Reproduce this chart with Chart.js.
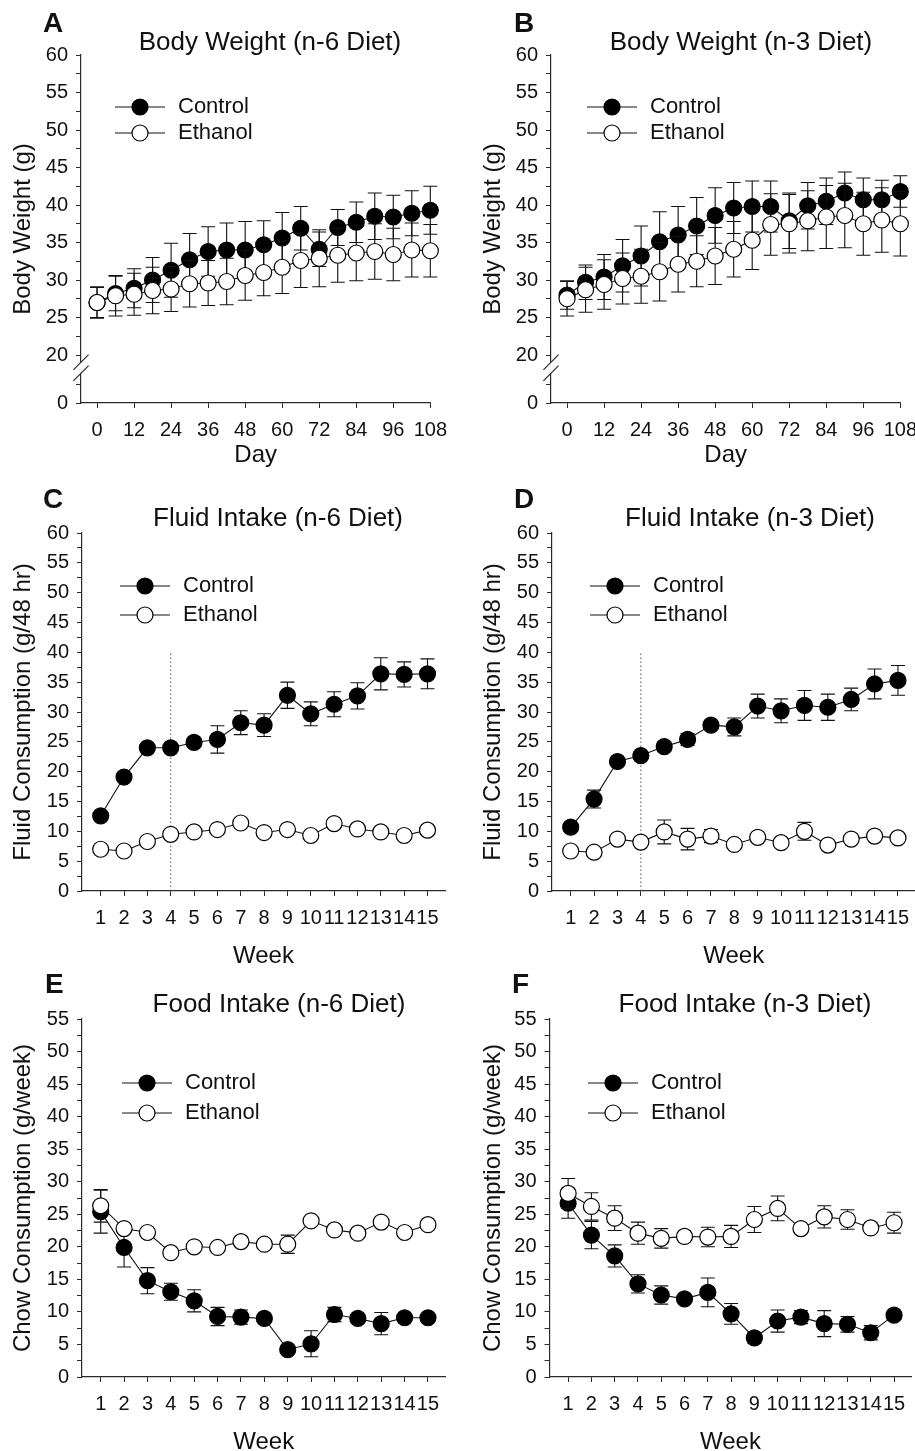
<!DOCTYPE html>
<html>
<head>
<meta charset="utf-8">
<script src="https://cdn.jsdelivr.net/npm/chart.js@4.4.1/dist/chart.umd.min.js"></script>
<style>
  html, body { margin: 0; padding: 0; background: #fff; overflow: hidden; }
  #page { position: relative; width: 915px; height: 1451px; overflow: hidden;
          font-family: "Liberation Sans", Arial, Helvetica, sans-serif; color: #111; }
  canvas { position: absolute; }
  .letter { position: absolute; font-weight: bold; font-size: 28px; line-height: 1; transform: translateY(-50%); }
  .title { position: absolute; font-size: 26px; line-height: 1; white-space: nowrap; transform: translate(-50%, -50%); }
</style>
</head>
<body>
<div id="page"></div>
<script>
const FONT = '"Liberation Sans", Arial, Helvetica, sans-serif';
const INK = '#111';
const AXIS = '#2b2b2b';

// x positions
const days = [0, 6, 12, 18, 24, 30, 36, 42, 48, 54, 60, 66, 72, 78, 84, 90, 96, 102, 108];
const weeks = [1, 2, 3, 4, 5, 6, 7, 8, 9, 10, 11, 12, 13, 14, 15];

// tick labels
const dayTicks = [0, 12, 24, 36, 48, 60, 72, 84, 96, 108];
const bwYTicks = [20, 25, 30, 35, 40, 45, 50, 55, 60];
const fluidYTicks = [0, 5, 10, 15, 20, 25, 30, 35, 40, 45, 50, 55, 60];
const foodYTicks = [0, 5, 10, 15, 20, 25, 30, 35, 40, 45, 50, 55];
const brokenZero = 13.6;   // where "0" sits below the axis break
const fluidMarkWeek = 4;   // dotted line in fluid panels
const fluidMarkTop = 40;

// A - body weight, n-6
const bwN6Control    = [27.0, 28.2, 28.9, 30.0, 31.3, 32.7, 33.8, 34.0, 34.0, 34.7, 35.6, 36.9, 34.1, 37.0, 37.7, 38.5, 38.4, 38.9, 39.3];
const bwN6ControlErr = [2.0, 2.3, 2.6, 3.0, 3.6, 3.5, 3.3, 3.6, 3.8, 3.2, 3.4, 2.9, 2.3, 2.4, 2.7, 3.1, 2.9, 3.0, 3.2];
const bwN6Ethanol    = [27.0, 27.9, 28.1, 28.6, 28.8, 29.5, 29.6, 29.8, 30.6, 31.0, 31.7, 32.6, 32.9, 33.3, 33.6, 33.8, 33.4, 34.0, 33.9];
const bwN6EthanolErr = [2.1, 2.7, 2.8, 3.1, 3.0, 3.1, 3.0, 3.1, 3.3, 3.1, 3.5, 3.6, 3.8, 3.6, 3.7, 3.7, 3.5, 3.6, 3.5];

// B - body weight, n-3
const bwN3Control    = [28.0, 29.7, 30.4, 31.9, 33.2, 35.1, 36.0, 37.2, 38.6, 39.6, 39.8, 39.8, 37.9, 39.9, 40.5, 41.6, 40.7, 40.7, 41.8];
const bwN3ControlErr = [1.9, 2.3, 3.0, 3.5, 4.0, 4.0, 3.8, 3.8, 3.7, 3.4, 3.4, 3.4, 3.7, 3.1, 3.1, 2.8, 2.9, 2.6, 2.1];
const bwN3Ethanol    = [27.5, 28.7, 29.4, 30.2, 30.5, 31.1, 32.1, 32.5, 33.2, 34.1, 35.3, 37.4, 37.5, 37.9, 38.4, 38.6, 37.5, 38.0, 37.5];
const bwN3EthanolErr = [2.3, 3.0, 3.3, 3.4, 3.6, 3.9, 3.7, 3.4, 3.8, 3.7, 3.9, 4.1, 3.9, 4.0, 4.2, 4.3, 4.2, 4.3, 4.3];

// C - fluid intake, n-6
const fluidN6Control    = [12.6, 19.1, 24.0, 24.0, 24.9, 25.4, 28.2, 27.8, 32.8, 29.7, 31.3, 32.7, 36.4, 36.3, 36.4];
const fluidN6ControlErr = [0.5, 0.6, 0.5, 0.5, 0.6, 2.3, 2.0, 1.9, 2.2, 2.0, 2.1, 2.2, 2.7, 2.1, 2.5];
const fluidN6Ethanol    = [7.0, 6.7, 8.3, 9.5, 9.9, 10.3, 11.4, 9.8, 10.3, 9.3, 11.3, 10.4, 9.9, 9.3, 10.2];
const fluidN6EthanolErr = [0.4, 0.4, 0.5, 0.5, 0.5, 0.6, 0.6, 0.5, 0.6, 0.5, 0.6, 0.6, 0.5, 0.5, 0.5];

// D - fluid intake, n-3
const fluidN3Control    = [10.7, 15.4, 21.7, 22.7, 24.2, 25.4, 27.8, 27.5, 31.0, 30.2, 31.1, 30.8, 32.1, 34.7, 35.3];
const fluidN3ControlErr = [0.5, 1.5, 0.6, 0.6, 0.8, 1.0, 0.7, 1.5, 2.0, 2.0, 2.5, 2.2, 1.9, 2.5, 2.5];
const fluidN3Ethanol    = [6.7, 6.5, 8.7, 8.2, 9.9, 8.7, 9.2, 7.8, 9.0, 8.1, 10.0, 7.7, 8.7, 9.2, 8.9];
const fluidN3EthanolErr = [0.4, 0.4, 0.5, 0.5, 2.0, 1.8, 1.1, 0.5, 0.6, 0.5, 1.5, 0.5, 0.5, 0.5, 0.5];

// E - food intake, n-6
const foodN6Control    = [25.4, 19.9, 14.8, 13.1, 11.7, 9.3, 9.2, 9.0, 4.2, 5.1, 9.6, 9.0, 8.2, 9.1, 9.1];
const foodN6ControlErr = [3.3, 3.0, 2.0, 1.3, 1.7, 1.4, 1.1, 0.5, 0.5, 2.0, 1.1, 0.6, 1.7, 0.5, 0.5];
const foodN6Ethanol    = [26.3, 22.8, 22.2, 19.1, 20.0, 19.9, 20.8, 20.4, 20.4, 24.0, 22.6, 22.1, 23.8, 22.2, 23.4];
const foodN6EthanolErr = [2.5, 0.5, 0.5, 0.5, 0.5, 0.5, 0.5, 0.5, 1.4, 0.6, 0.5, 0.5, 0.6, 0.5, 0.5];

// F - food intake, n-3
const foodN3Control    = [26.7, 21.8, 18.6, 14.3, 12.6, 12.0, 13.0, 9.7, 6.0, 8.6, 9.2, 8.2, 8.1, 6.8, 9.5];
const foodN3ControlErr = [2.3, 2.1, 1.7, 1.4, 1.4, 0.6, 2.2, 1.6, 0.8, 1.7, 1.0, 2.0, 1.2, 1.1, 0.5];
const foodN3Ethanol    = [28.2, 26.2, 24.4, 22.1, 21.3, 21.6, 21.5, 21.6, 24.2, 25.9, 22.8, 24.6, 24.2, 22.9, 23.7];
const foodN3EthanolErr = [2.3, 2.1, 1.9, 1.7, 1.5, 0.6, 1.5, 1.7, 2.0, 1.9, 0.5, 1.7, 1.5, 0.5, 1.6];

// layout: box = canvas [left, top, width, height], area = plot [left, right, top, bottom] in page px
const panels = [
  { letter: 'A', title: 'Body Weight (n-6 Diet)', box: [0, 0, 457, 470], area: [81, 431, 55, 403],
    letterPos: [43, 23], titlePos: [270, 41], legendPos: [140, 107, 133],
    xs: days, xMin: -5.2, xMax: 108, xTicks: dayTicks, xTitle: 'Day',
    yMin: brokenZero, yMax: 60, yTicks: bwYTicks, yTitle: 'Body Weight (g)', broken: true,
    control: bwN6Control, controlErr: bwN6ControlErr, ethanol: bwN6Ethanol, ethanolErr: bwN6EthanolErr },
  { letter: 'B', title: 'Body Weight (n-3 Diet)', box: [470, 0, 457, 470], area: [551, 902, 55, 403],
    letterPos: [514, 23], titlePos: [741, 41], legendPos: [612, 107, 133],
    xs: days, xMin: -5.2, xMax: 108, xTicks: dayTicks, xTitle: 'Day',
    yMin: brokenZero, yMax: 60, yTicks: bwYTicks, yTitle: 'Body Weight (g)', broken: true,
    control: bwN3Control, controlErr: bwN3ControlErr, ethanol: bwN3Ethanol, ethanolErr: bwN3EthanolErr },
  { letter: 'C', title: 'Fluid Intake (n-6 Diet)', box: [0, 480, 457, 491], area: [82, 445, 533, 891],
    letterPos: [43, 499], titlePos: [278, 517], legendPos: [145, 586, 615],
    xs: weeks, xMin: 0.2, xMax: 15.75, xTicks: weeks, xTitle: 'Week',
    yMin: 0, yMax: 60, yTicks: fluidYTicks, yTitle: 'Fluid Consumption (g/48 hr)', markWeek: fluidMarkWeek,
    control: fluidN6Control, controlErr: fluidN6ControlErr, ethanol: fluidN6Ethanol, ethanolErr: fluidN6EthanolErr },
  { letter: 'D', title: 'Fluid Intake (n-3 Diet)', box: [470, 480, 457, 491], area: [552, 915.5, 533, 891],
    letterPos: [514, 499], titlePos: [750, 517], legendPos: [615, 586, 615],
    xs: weeks, xMin: 0.2, xMax: 15.75, xTicks: weeks, xTitle: 'Week',
    yMin: 0, yMax: 60, yTicks: fluidYTicks, yTitle: 'Fluid Consumption (g/48 hr)', markWeek: fluidMarkWeek,
    control: fluidN3Control, controlErr: fluidN3ControlErr, ethanol: fluidN3Ethanol, ethanolErr: fluidN3EthanolErr },
  { letter: 'E', title: 'Food Intake (n-6 Diet)', box: [0, 960, 457, 497], area: [82, 445.5, 1019, 1377],
    letterPos: [45, 984], titlePos: [279, 1003], legendPos: [147, 1083, 1113],
    xs: weeks, xMin: 0.2, xMax: 15.75, xTicks: weeks, xTitle: 'Week',
    yMin: 0, yMax: 55, yTicks: foodYTicks, yTitle: 'Chow Consumption (g/week)',
    control: foodN6Control, controlErr: foodN6ControlErr, ethanol: foodN6Ethanol, ethanolErr: foodN6EthanolErr },
  { letter: 'F', title: 'Food Intake (n-3 Diet)', box: [470, 960, 457, 497], area: [549.5, 911.5, 1019, 1377],
    letterPos: [512, 984], titlePos: [745, 1003], legendPos: [613, 1083, 1113],
    xs: weeks, xMin: 0.2, xMax: 15.75, xTicks: weeks, xTitle: 'Week',
    yMin: 0, yMax: 55, yTicks: foodYTicks, yTitle: 'Chow Consumption (g/week)',
    control: foodN3Control, controlErr: foodN3ControlErr, ethanol: foodN3Ethanol, ethanolErr: foodN3EthanolErr }
];

// draws each dataset's SEM bars just before its line and markers
const errorBars = {
  id: 'errorBars',
  beforeDatasetDraw(chart, args) {
    const ds = chart.data.datasets[args.index];
    if (!ds.errors) return;
    const y = chart.scales.y;
    const ctx = chart.ctx;
    ctx.save();
    ctx.strokeStyle = INK;
    ctx.lineWidth = 1.1;
    args.meta.data.forEach((pt, i) => {
      const v = ds.data[i].y, e = ds.errors[i];
      const top = y.getPixelForValue(v + e), bot = y.getPixelForValue(v - e);
      ctx.beginPath();
      ctx.moveTo(pt.x, top); ctx.lineTo(pt.x, bot);
      ctx.moveTo(pt.x - 7, top); ctx.lineTo(pt.x + 7, top);
      ctx.moveTo(pt.x - 7, bot); ctx.lineTo(pt.x + 7, bot);
      ctx.stroke();
    });
    ctx.restore();
  }
};

// legend inside the plot, axis break marks, dotted week line
const panelExtras = {
  id: 'panelExtras',
  beforeDatasetsDraw(chart, args, opts) {
    if (opts.markWeek == null) return;
    const ctx = chart.ctx;
    const x = chart.scales.x.getPixelForValue(opts.markWeek);
    ctx.save();
    ctx.strokeStyle = '#555';
    ctx.lineWidth = 1;
    ctx.setLineDash([1.5, 2.5]);
    ctx.beginPath();
    ctx.moveTo(x, chart.scales.y.getPixelForValue(0));
    ctx.lineTo(x, chart.scales.y.getPixelForValue(fluidMarkTop));
    ctx.stroke();
    ctx.restore();
  },
  afterDraw(chart, args, opts) {
    const ctx = chart.ctx;
    const [mx, y1, y2] = opts.legendPos;
    const [ox, oy] = opts.origin;
    ctx.save();
    chart.data.datasets.forEach((ds, i) => {
      const cx = mx - ox, cy = (i === 0 ? y1 : y2) - oy;
      ctx.beginPath();
      ctx.moveTo(cx - 25, cy); ctx.lineTo(cx + 25, cy);
      ctx.strokeStyle = ds.borderColor; ctx.lineWidth = ds.borderWidth;
      ctx.stroke();
      ctx.beginPath();
      ctx.arc(cx, cy, ds.pointRadius, 0, Math.PI * 2);
      ctx.fillStyle = ds.pointBackgroundColor; ctx.fill();
      ctx.lineWidth = ds.pointBorderWidth; ctx.strokeStyle = ds.pointBorderColor;
      ctx.stroke();
      ctx.fillStyle = INK;
      ctx.font = '22px ' + FONT;
      ctx.textAlign = 'left';
      ctx.textBaseline = 'middle';
      ctx.fillText(ds.label, cx + 38, cy);
    });
    if (opts.broken) {
      const x = chart.chartArea.left;
      const yb = chart.scales.y.getPixelForValue(20) + 12.8;
      ctx.fillStyle = '#fff';
      ctx.fillRect(x - 2.5, yb - 5.5, 5, 11);
      ctx.strokeStyle = AXIS;
      ctx.lineWidth = 1.2;
      [-5.5, 5.5].forEach(d => {
        ctx.beginPath();
        ctx.moveTo(x - 7.6, yb + d + 7.6);
        ctx.lineTo(x + 7.6, yb + d - 7.6);
        ctx.stroke();
      });
    }
    ctx.restore();
  }
};

function series(label, xs, ys, errs, fill, order) {
  return {
    label,
    data: xs.map((x, i) => ({ x, y: ys[i] })),
    errors: errs,
    order,
    borderColor: INK,
    borderWidth: 1.1,
    pointRadius: 8,
    pointHoverRadius: 8,
    pointBackgroundColor: fill,
    pointBorderColor: '#000',
    pointBorderWidth: 1.2,
    tension: 0,
    clip: false
  };
}

function buildConfig(p) {
  const [bx, by, bw, bh] = p.box;
  const [al, ar, at, ab] = p.area;
  const yTickValues = p.broken ? [brokenZero, brokenZero + 2.5] : [];
  p.yTicks.forEach((v, i) => {
    yTickValues.push(v);
    if (i < p.yTicks.length - 1) yTickValues.push(v + 2.5);   // minor tick
  });
  const yLabel = v => {
    if (p.broken && Math.abs(v - brokenZero) < 0.01) return '0';
    if (p.broken && v < 20) return '';
    return v % 5 === 0 ? String(v) : '';
  };
  return {
    type: 'line',
    data: {
      datasets: [
        series('Control', p.xs, p.control, p.controlErr, '#000', 2),
        series('Ethanol', p.xs, p.ethanol, p.ethanolErr, '#fff', 1)
      ]
    },
    options: {
      responsive: false,
      animation: false,
      events: [],
      layout: { padding: { left: 0, top: at - by, right: bx + bw - ar, bottom: 0 } },
      plugins: {
        legend: { display: false },
        title: { display: false },
        tooltip: { enabled: false },
        panelExtras: { legendPos: p.legendPos, origin: [bx, by], broken: !!p.broken, markWeek: p.markWeek == null ? null : p.markWeek }
      },
      scales: {
        x: {
          type: 'linear', position: 'bottom', min: p.xMin, max: p.xMax,
          afterBuildTicks: s => { s.ticks = p.xTicks.map(v => ({ value: v })); },
          afterFit: s => { s.height = by + bh - ab; },
          grid: { drawOnChartArea: false, drawTicks: true, tickLength: 5, color: AXIS, lineWidth: 1 },
          border: { display: true, color: AXIS, width: 1.2 },
          ticks: { autoSkip: false, maxRotation: 0, padding: 10, color: INK, font: { family: FONT, size: 20 } },
          title: { display: true, text: p.xTitle, color: INK, font: { family: FONT, size: 24 }, padding: 0 }
        },
        y: {
          type: 'linear', position: 'left', min: p.yMin, max: p.yMax,
          afterBuildTicks: s => { s.ticks = yTickValues.map(v => ({ value: v })); },
          afterFit: s => { s.width = al - bx; },
          grid: { drawOnChartArea: false, drawTicks: true, tickLength: 5, color: AXIS, lineWidth: 1 },
          border: { display: true, color: AXIS, width: 1.2 },
          ticks: { autoSkip: false, padding: 8, color: INK, font: { family: FONT, size: 20 }, callback: yLabel },
          title: { display: true, text: p.yTitle, color: INK, font: { family: FONT, size: 24 }, padding: { top: 9, bottom: 0 } }
        }
      }
    },
    plugins: [errorBars, panelExtras]
  };
}

function addText(cls, text, pos) {
  const el = document.createElement('div');
  el.className = cls;
  el.textContent = text;
  el.style.left = pos[0] + 'px';
  el.style.top = pos[1] + 'px';
  page.appendChild(el);
}

const page = document.getElementById('page');
panels.forEach(p => {
  const [bx, by, bw, bh] = p.box;
  const canvas = document.createElement('canvas');
  canvas.width = bw;
  canvas.height = bh;
  canvas.style.left = bx + 'px';
  canvas.style.top = by + 'px';
  canvas.style.width = bw + 'px';
  canvas.style.height = bh + 'px';
  page.appendChild(canvas);
  addText('letter', p.letter, p.letterPos);
  addText('title', p.title, p.titlePos);
  new Chart(canvas.getContext('2d'), buildConfig(p));
});
</script>
</body>
</html>
